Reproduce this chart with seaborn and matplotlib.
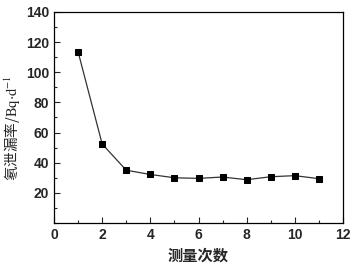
import matplotlib
matplotlib.use("Agg")
import matplotlib.pyplot as plt
import seaborn as sns
import pandas as pd
from matplotlib.ticker import MultipleLocator

counts = [1, 2, 3, 4, 5, 6, 7, 8, 9, 10, 11]
rates = [113.6, 52.4, 35.0, 32.2, 30.0, 29.6, 30.5, 28.7, 30.7, 31.4, 29.4]
xticks = [0, 2, 4, 6, 8, 10, 12]
yticks = [20, 40, 60, 80, 100, 120, 140]

sns.set_style("ticks")
plt.rcParams['font.family'] = ['Liberation Sans', 'Noto Sans CJK SC', 'DejaVu Sans']
plt.rcParams['mathtext.fontset'] = 'stix'

df = pd.DataFrame({"n": counts, "r": rates})

fig = plt.figure(figsize=(3.54, 2.70), dpi=100)
ax = fig.add_axes([0.1525, 0.174, 0.8165, 0.782])
sns.lineplot(data=df, x="n", y="r", ax=ax, color="#333333", linewidth=0.9,
             marker="s", markersize=4.5, markerfacecolor="black",
             markeredgecolor="black")
ax.set_xlim(0, 12)
ax.set_ylim(0, 140)
ax.set_xticks(xticks)
ax.set_yticks(yticks)
ax.xaxis.set_minor_locator(MultipleLocator(1))
ax.yaxis.set_minor_locator(MultipleLocator(10))
ax.tick_params(which='both', direction='in', top=False, right=False, width=0.8)
ax.tick_params(which='major', length=4, labelsize=10)
ax.tick_params(which='minor', length=2.5)
for lab in ax.get_xticklabels() + ax.get_yticklabels():
    lab.set_fontweight('bold')
for s in ax.spines.values():
    s.set_linewidth(0.9)
    s.set_color('black')
ax.set_xlabel("测量次数", fontsize=11, family=['Noto Sans CJK SC'], fontweight='bold', labelpad=4)
ax.set_ylabel(r"氡泄漏率/$\mathrm{Bq{\cdot}d^{-1}}$", fontsize=10.5,
              family=['Noto Sans CJK SC', 'DejaVu Sans'])
ax.yaxis.set_label_coords(-0.108, 0.45)
fig.savefig("out.png", dpi=100)
